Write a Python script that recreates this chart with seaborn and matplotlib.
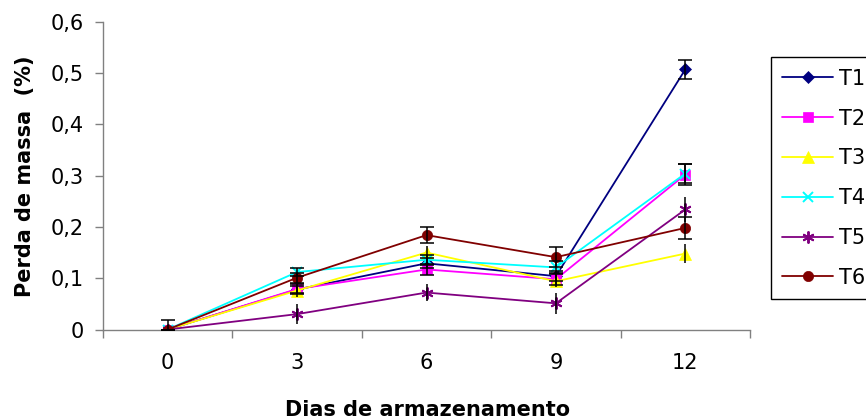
"""
Perda de massa (%) ao longo dos dias de armazenamento, tratamentos T1-T6
"""
import matplotlib
matplotlib.use("Agg")
import matplotlib.pyplot as plt
import seaborn as sns
from matplotlib.ticker import FixedLocator, NullFormatter

sns.set_theme(style="white")
plt.rcParams["font.family"] = ["DejaVu Sans"]
plt.rcParams["text.color"] = "black"

# dias de armazenamento
DIAS = [0, 3, 6, 9, 12]

# médias por tratamento
T1 = [0.0, 0.078, 0.129, 0.104, 0.507]
T2 = [0.0, 0.079, 0.117, 0.098, 0.302]
T3 = [0.0, 0.076, 0.150, 0.094, 0.148]
T4 = [0.0, 0.112, 0.136, 0.121, 0.304]
T5 = [0.0, 0.030, 0.072, 0.051, 0.234]
T6 = [0.0, 0.101, 0.184, 0.141, 0.198]

# desvios (barras de erro)
E1 = [0.0, 0.006, 0.010, 0.010, 0.019]
E2 = [0.0, 0.010, 0.010, 0.012, 0.020]
E3 = [0.0, 0.012, 0.012, 0.012, 0.019]
E4 = [0.0, 0.007, 0.010, 0.012, 0.018]
E5 = [0.0, 0.020, 0.016, 0.020, 0.025]
E6 = [0.018, 0.010, 0.016, 0.019, 0.021]

NOMES = ["T1", "T2", "T3", "T4", "T5", "T6"]
Y_TICKS = [0, 0.1, 0.2, 0.3, 0.4, 0.5, 0.6]
Y_LABELS = ["0", "0,1", "0,2", "0,3", "0,4", "0,5", "0,6"]

SERIES = [T1, T2, T3, T4, T5, T6]
ERROS = [E1, E2, E3, E4, E5, E6]
CORES = ["#000080", "#FF00FF", "#FFFF00", "#00FFFF", "#800080", "#800000"]
MARCAS = ["D", "s", "^", "x", (6, 2, 0), "o"]
TAMANHOS = [6.2, 7.5, 8.6, 7.2, 8.6, 7.4]
COM_CAPS = [True, True, False, True, False, True]


def main():
    fig = plt.figure(figsize=(8.66, 4.2), dpi=100)
    ax = fig.add_axes([103 / 866, 1 - 329.5 / 420, 647 / 866, 307.8 / 420])

    for nome, vals, err, cor, m, ms, caps in zip(NOMES, SERIES, ERROS, CORES,
                                                 MARCAS, TAMANHOS, COM_CAPS):
        sns.lineplot(x=DIAS, y=vals, ax=ax, color=cor, marker=m, markersize=ms,
                     markerfacecolor=cor, markeredgecolor=cor,
                     markeredgewidth=1.4 if m in ("x", (6, 2, 0)) else 0.5,
                     linewidth=1.3, label=nome, errorbar=None, zorder=2)
        ax.errorbar(DIAS, vals, yerr=err, fmt="none", ecolor="black",
                    elinewidth=1.1, capsize=5 if caps else 0, capthick=1.1,
                    zorder=3)

    ax.set_xlim(-1.5, 13.5)
    ax.set_ylim(0, 0.6)

    # eixo x tipo categoria: rótulos no centro, marcas entre categorias
    ax.set_xticks(DIAS)
    ax.set_xticklabels([str(d) for d in DIAS])
    ax.xaxis.set_minor_locator(FixedLocator([-1.5, 1.5, 4.5, 7.5, 10.5, 13.5]))
    ax.xaxis.set_minor_formatter(NullFormatter())
    ax.tick_params(axis="x", which="major", length=0, pad=17, labelsize=15,
                   colors="black")
    ax.tick_params(axis="x", which="minor", length=5.8, width=1,
                   color="#808080", direction="out", bottom=True)

    ax.set_yticks(Y_TICKS)
    ax.set_yticklabels(Y_LABELS)
    ax.tick_params(axis="y", length=5.5, width=1, color="#808080",
                   direction="out", left=True, pad=8, labelsize=15,
                   labelcolor="black")

    for lado in ["top", "right"]:
        ax.spines[lado].set_visible(False)
    for lado in ["left", "bottom"]:
        ax.spines[lado].set_color("#808080")
        ax.spines[lado].set_linewidth(1)
    ax.grid(False)

    fig.text(427.5 / 866, 1 - 416 / 420, "Dias de armazenamento",
             ha="center", va="baseline", fontsize=15, fontweight="bold",
             color="black")
    fig.text(31 / 866, 1 - 176 / 420, "Perda de massa  (%)", rotation=90,
             rotation_mode="anchor", ha="center", va="baseline",
             fontsize=15, fontweight="bold", color="black")

    leg = ax.legend(loc="upper left", bbox_to_anchor=(770.7 / 866, 1 - 57.3 / 420),
                    bbox_transform=fig.transFigure, fontsize=15, frameon=True,
                    fancybox=False, shadow=False, framealpha=1,
                    handlelength=2.45, handletextpad=0.3, labelspacing=0.95,
                    borderpad=0.55, borderaxespad=0)
    leg.get_frame().set_edgecolor("black")
    leg.get_frame().set_linewidth(1)
    for txt in leg.get_texts():
        txt.set_color("black")

    fig.savefig("out.png", dpi=100)
    plt.close(fig)


if __name__ == "__main__":
    main()
